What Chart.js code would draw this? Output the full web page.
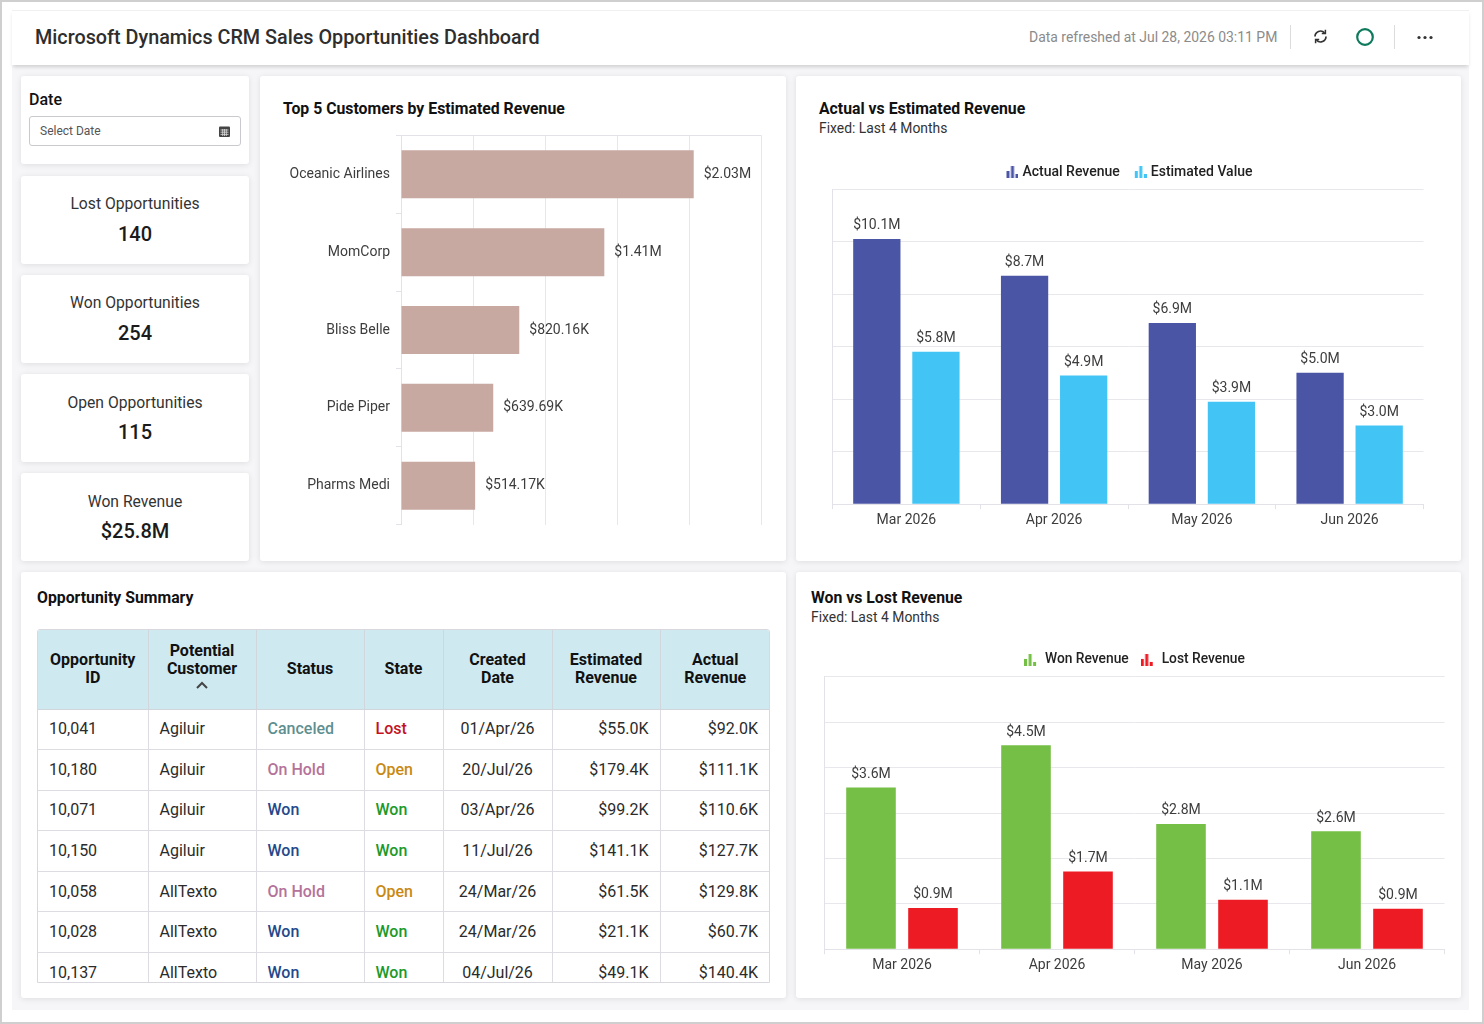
<!DOCTYPE html>
<html>
<head>
<meta charset="utf-8">
<title>Microsoft Dynamics CRM Sales Opportunities Dashboard</title>
<script src="https://cdn.jsdelivr.net/npm/chart.js@4"></script>
<style>
  html, body { margin: 0; padding: 0; background: #fff; }
  body { width: 1484px; height: 1024px; position: relative; overflow: hidden; font-family: Roboto, sans-serif; color: #222; }
  .frame { position: absolute; left: 0; top: 0; width: 1480px; height: 1020px; border: 2px solid #cfcfcf; }
  .main { position: absolute; left: 12px; top: 65px; width: 1457px; height: 945px; background: #f6f6f8; }
  .header { position: absolute; left: 12px; top: 10px; width: 1457px; height: 55px; background: #fff; border-top: 1px solid #f0f0f0; box-sizing: border-box; box-shadow: 0 3px 4px -1px rgba(0,0,0,.16); }
  .abs { position: absolute; white-space: nowrap; }
  .card { position: absolute; background: #fff; border-radius: 3px; box-shadow: 0 1px 6px rgba(0,0,0,.10); }
  .kpi { left: 21px; width: 228px; height: 88px; text-align: center; }
  .kpi .lbl { margin-top: 19px; font-size: 15.7px; line-height: 19px; color: #333; }
  .kpi .val { margin-top: 8px; font-size: 20px; line-height: 24px; font-weight: 500; color: #1b1b1b; }
  .ctitle { font-size: 15.8px; font-weight: 700; color: #111; }
  .csub { font-size: 13.9px; color: #333; }
  canvas { position: absolute; display: block; }
  .tablewrap { position: absolute; left: 37px; top: 629px; width: 733px; height: 354px; overflow: hidden; border: 1px solid #d8d8de; border-radius: 3px 3px 0 0; box-sizing: border-box; }
  table { border-collapse: collapse; table-layout: fixed; width: 732px; font-size: 16px; }
  th { background: #cfe9f1; height: 79px; padding: 0 4px; font-weight: 700; font-size: 16px; line-height: 18px; color: #111; border-right: 1px solid #d0d6dc; border-bottom: 1px solid #d0d6dc; box-sizing: border-box; }
  th.sorted { padding-bottom: 7px; }
  td { height: 40.6px; padding: 0 11px 1px 11px; box-sizing: border-box; border-right: 1px solid #dcdce2; border-bottom: 1px solid #dcdce2; color: #2b2b2b; white-space: nowrap; }
  th:last-child, td:last-child { border-right: 0; }
  td.c { text-align: center; padding: 0 0 1px; }
  td.r { text-align: right; }
  td.b { font-weight: 500; }
</style>
</head>
<body>
<div class="frame"></div>
<div class="main"></div>
<div class="header"></div>
<div class="abs" style="left:35px;top:26px;font-size:19.8px;font-weight:500;color:#2e2e2e">Microsoft Dynamics CRM Sales Opportunities Dashboard</div>
<div class="abs" style="left:1029px;top:29px;font-size:13.95px;color:#8b8b8b">Data refreshed at Jul 28, 2026 03:11 PM</div>
<div class="abs" style="left:1290px;top:25px;width:1px;height:24px;background:#dcdcdc"></div>
<div class="abs" style="left:1394px;top:25px;width:1px;height:24px;background:#dcdcdc"></div>
<svg class="abs" style="left:1312px;top:28px" width="17" height="17" viewBox="0 0 17 17" fill="none" stroke="#333" stroke-width="1.7">
  <path d="M3 8.5a5.5 5.5 0 0 1 9.5-3.7M14 8.5a5.5 5.5 0 0 1-9.5 3.7"/>
  <path d="M13.4 1.8v3.6H9.8M3.6 15.2v-3.6h3.6" stroke-width="1.5"/>
</svg>
<svg class="abs" style="left:1355px;top:27px" width="20" height="20"><circle cx="10" cy="10" r="7.8" fill="none" stroke="#0d7a5c" stroke-width="2.2"/></svg>
<svg class="abs" style="left:1417px;top:35px" width="16" height="5" fill="#333"><circle cx="2" cy="2.5" r="1.6"/><circle cx="8" cy="2.5" r="1.6"/><circle cx="14" cy="2.5" r="1.6"/></svg>

<div class="card" style="left:21px;top:76px;width:228px;height:88px"></div>
<div class="abs" style="left:29px;top:90px;font-size:16px;font-weight:500;color:#111">Date</div>
<div class="abs" style="left:29px;top:116px;width:212px;height:30px;border:1px solid #c9c9ce;border-radius:3px;box-sizing:border-box"></div>
<div class="abs" style="left:40px;top:124px;font-size:12px;color:#555">Select Date</div>
<svg class="abs" style="left:218px;top:125px" width="13" height="13" viewBox="0 0 13 13">
  <rect x="1" y="1.5" width="11" height="10.5" rx="1" fill="#444"/>
  <path d="M2.5 5h8M2.5 7.2h8M2.5 9.4h8M4.7 4v7M6.5 4v7M8.3 4v7" stroke="#ddd" stroke-width=".8"/>
</svg>

<div class="card kpi" style="top:176px"><div class="lbl" style="margin-top:18px">Lost Opportunities</div><div class="val" style="margin-top:9px">140</div></div>
<div class="card kpi" style="top:275px"><div class="lbl" style="margin-top:18px">Won Opportunities</div><div class="val" style="margin-top:9px">254</div></div>
<div class="card kpi" style="top:374px"><div class="lbl">Open Opportunities</div><div class="val">115</div></div>
<div class="card kpi" style="top:473px"><div class="lbl">Won Revenue</div><div class="val">$25.8M</div></div>

<div class="card" style="left:260px;top:76px;width:526px;height:485px"></div>
<div class="abs ctitle" style="left:283px;top:99px">Top 5 Customers by Estimated Revenue</div>
<canvas id="top-customers" width="526" height="418" style="left:260px;top:121px"></canvas>

<div class="card" style="left:796px;top:76px;width:665px;height:485px"></div>
<div class="abs ctitle" style="left:819px;top:99px">Actual vs Estimated Revenue</div>
<div class="abs csub" style="left:819px;top:120px">Fixed: Last 4 Months</div>
<canvas id="actual-estimated" width="665" height="385" style="left:796px;top:153px"></canvas>

<div class="card" style="left:21px;top:572px;width:765px;height:426px"></div>
<div class="abs ctitle" style="left:37px;top:588px">Opportunity Summary</div>
<div class="tablewrap"><table id="summary-table"></table></div>

<div class="card" style="left:796px;top:572px;width:665px;height:426px"></div>
<div class="abs ctitle" style="left:811px;top:588px">Won vs Lost Revenue</div>
<div class="abs csub" style="left:811px;top:609px">Fixed: Last 4 Months</div>
<canvas id="won-lost" width="665" height="342" style="left:796px;top:641px"></canvas>

<script>
// Chart data
const customers = ["Oceanic Airlines", "MomCorp", "Bliss Belle", "Pide Piper", "Pharms Medi"];
const customerRevenue = [2.03, 1.41, 0.82016, 0.63969, 0.51417];
const customerLabels = ["$2.03M", "$1.41M", "$820.16K", "$639.69K", "$514.17K"];

const months = ["Mar 2026", "Apr 2026", "May 2026", "Jun 2026"];
const actualRevenue = [10.1, 8.7, 6.9, 5.0];
const estimatedValue = [5.8, 4.9, 3.9, 3.0];
const wonRevenue = [3.56, 4.49, 2.76, 2.6];
const lostRevenue = [0.91, 1.71, 1.09, 0.89];

// Table data
const tableHeaders = ["Opportunity<br>ID", "Potential<br>Customer", "Status", "State", "Created<br>Date", "Estimated<br>Revenue", "Actual<br>Revenue"];
const columnWidths = [110, 108, 108, 79, 109, 108, 110];
const opportunityIds = ["10,041", "10,180", "10,071", "10,150", "10,058", "10,028", "10,137"];
const potentialCustomers = ["Agiluir", "Agiluir", "Agiluir", "Agiluir", "AllTexto", "AllTexto", "AllTexto"];
const statuses = ["Canceled", "On Hold", "Won", "Won", "On Hold", "Won", "Won"];
const states = ["Lost", "Open", "Won", "Won", "Open", "Won", "Won"];
const createdDates = ["01/Apr/26", "20/Jul/26", "03/Apr/26", "11/Jul/26", "24/Mar/26", "24/Mar/26", "04/Jul/26"];
const estimatedRevenues = ["$55.0K", "$179.4K", "$99.2K", "$141.1K", "$61.5K", "$21.1K", "$49.1K"];
const actualRevenues = ["$92.0K", "$111.1K", "$110.6K", "$127.7K", "$129.8K", "$60.7K", "$140.4K"];

const statusColors = { Canceled: "#5f8f90", "On Hold": "#b5739a", Won: "#1f4a8c" };
const stateColors = { Lost: "#c4121f", Open: "#c98a14", Won: "#1b9a2a" };

const GRID = "#e7e7ec";
const EDGE = "#e2e2e8";
const TEXT = "#3d3d3d";
const FONT = "Roboto, sans-serif";

Chart.defaults.font.family = FONT;
Chart.defaults.animation = false;

// Small bar-chart glyph used as the legend marker
function barIcon(color, width, offset) {
  const c = document.createElement("canvas");
  c.width = width;
  c.height = 12;
  const g = c.getContext("2d");
  g.fillStyle = color;
  g.fillRect(offset, 5, 3, 7);
  g.fillRect(offset + 4.5, 0, 3, 12);
  g.fillRect(offset + 9, 8, 3, 4);
  return c;
}

// Draws the value labels at the end of each bar
const valueLabels = {
  id: "valueLabels",
  afterDatasetsDraw(chart, args, opts) {
    const ctx = chart.ctx;
    ctx.save();
    ctx.font = "14px " + FONT;
    ctx.fillStyle = TEXT;
    chart.data.datasets.forEach((ds, i) => {
      chart.getDatasetMeta(i).data.forEach((bar, j) => {
        const text = opts.format(ds.data[j], j);
        if (chart.options.indexAxis === "y") {
          ctx.textAlign = "left";
          ctx.textBaseline = "middle";
          ctx.fillText(text, bar.x + 10, bar.y);
        } else {
          ctx.textAlign = "center";
          ctx.textBaseline = "bottom";
          ctx.fillText(text, bar.x, bar.y - 6);
        }
      });
    });
    ctx.restore();
  },
};

// Only the first and last grid lines of a category axis are drawn inside the plot
function edgeOnly(count) {
  return (c) => (c.index === 0 || c.index === count ? EDGE : "transparent");
}

new Chart(document.getElementById("top-customers"), {
  type: "bar",
  data: {
    labels: customers,
    datasets: [{ data: customerRevenue, backgroundColor: "#c8a9a1", barPercentage: 0.77, categoryPercentage: 0.8 }],
  },
  plugins: [valueLabels],
  options: {
    indexAxis: "y",
    responsive: false,
    layout: { padding: { top: 6, right: 24.5, bottom: 0, left: 0 } },
    plugins: {
      legend: { display: false },
      tooltip: { enabled: false },
      valueLabels: { format: (v, i) => customerLabels[i] },
    },
    scales: {
      x: {
        min: 0,
        max: 2.5,
        ticks: { stepSize: 0.5, display: false },
        grid: { color: GRID, drawTicks: false },
        border: { display: false },
      },
      y: {
        afterFit: (s) => { s.width = 141; },
        ticks: { color: TEXT, font: { size: 14 }, padding: 6 },
        grid: { color: edgeOnly(5), tickColor: EDGE, tickLength: 5 },
        border: { color: EDGE },
      },
    },
  },
});

function groupedBars(id, series, yMax, pad, icon) {
  new Chart(document.getElementById(id), {
    type: "bar",
    data: {
      labels: months,
      datasets: series.map((s) => ({ label: s.label, data: s.data, backgroundColor: s.color, barPercentage: 0.8, categoryPercentage: 0.8 })),
    },
    plugins: [valueLabels],
    options: {
      responsive: false,
      layout: { padding: pad },
      plugins: {
        tooltip: { enabled: false },
        valueLabels: { format: (v) => "$" + v.toFixed(1) + "M" },
        legend: {
          position: "top",
          labels: {
            color: "#222",
            font: { size: icon.font, weight: "500" },
            usePointStyle: true,
            pointStyleWidth: icon.box,
            boxHeight: 12,
            padding: 12,
            generateLabels: (chart) => chart.data.datasets.map((ds, i) => ({
              text: ds.label,
              fontColor: "#222",
              pointStyle: barIcon(series[i].color, icon.width, icon.offset),
              datasetIndex: i,
            })),
          },
        },
      },
      scales: {
        x: {
          ticks: { color: TEXT, font: { size: 14 }, padding: 3 },
          grid: { color: edgeOnly(4), tickColor: EDGE, tickLength: 5 },
          border: { color: EDGE },
        },
        y: {
          min: 0,
          max: yMax,
          ticks: { stepSize: yMax / 6, display: false },
          grid: { color: GRID, drawTicks: false },
          border: { color: EDGE },
        },
      },
    },
  });
}

groupedBars("actual-estimated", [
  { label: "Actual Revenue", data: actualRevenue, color: "#4a55a6" },
  { label: "Estimated Value", data: estimatedValue, color: "#42c5f5" },
], 12, { top: 0, right: 37.5, bottom: 6, left: 36.5 }, { box: 12, width: 18, offset: 6, font: 14 });

groupedBars("won-lost", [
  { label: "Won Revenue", data: wonRevenue, color: "#76bf47" },
  { label: "Lost Revenue", data: lostRevenue, color: "#ed1c24" },
], 6, { top: 0, right: 16.5, bottom: 6, left: 28.5 }, { box: 14, width: 14, offset: 0, font: 13.8 });

// Summary table
function renderTable() {
  const table = document.getElementById("summary-table");
  const cols = columnWidths.map((w) => `<col style="width:${w}px">`).join("");
  const head = tableHeaders.map((h, i) => {
    if (i === 1) {
      return `<th class="sorted">${h}<svg width="12" height="8" viewBox="0 0 12 8" style="display:block;margin:3px auto 0"><path d="M1 7l5-5 5 5" fill="none" stroke="#444" stroke-width="2"/></svg></th>`;
    }
    return `<th>${h}</th>`;
  }).join("");
  const rows = opportunityIds.map((id, i) => `
    <tr>
      <td>${id}</td>
      <td>${potentialCustomers[i]}</td>
      <td class="b" style="color:${statusColors[statuses[i]]}">${statuses[i]}</td>
      <td class="b" style="color:${stateColors[states[i]]}">${states[i]}</td>
      <td class="c">${createdDates[i]}</td>
      <td class="r">${estimatedRevenues[i]}</td>
      <td class="r" style="padding-right:12px">${actualRevenues[i]}</td>
    </tr>`).join("");
  table.innerHTML = `<colgroup>${cols}</colgroup><thead><tr>${head}</tr></thead><tbody>${rows}</tbody>`;
}

renderTable();
</script>
</body>
</html>
